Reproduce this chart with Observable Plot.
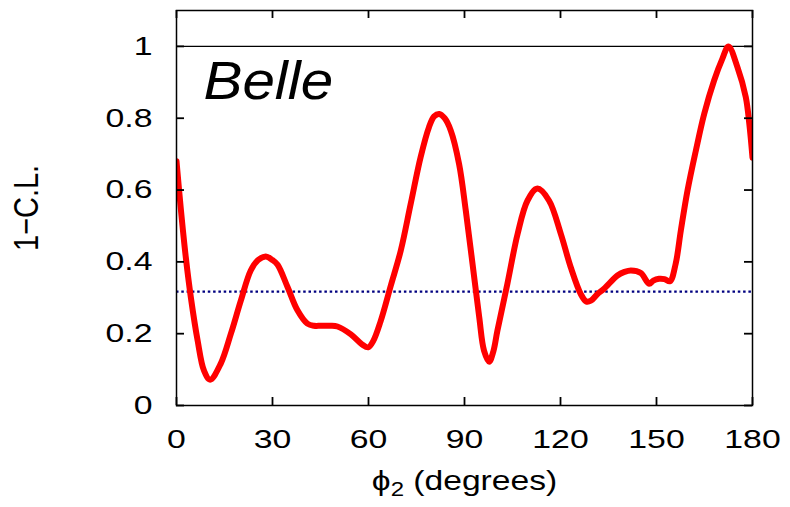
<!DOCTYPE html>
<html><head><meta charset="utf-8">
<script src="https://cdn.jsdelivr.net/npm/d3@7"></script>
<script src="https://cdn.jsdelivr.net/npm/@observablehq/plot@0.6"></script>
<style>body{margin:0;background:#fff;} #chart svg{display:block;}</style>
</head><body><div id="chart"></div>
<script>
const phi = [0,1.3,2.9,4.5,6.6,8.6,10.5,13.8,17,20.1,23.2,25.5,27.9,30,31.6,34.7,37.8,40.9,43,45.1,48,50.3,54.5,58,59.9,61.5,63.8,67,70.1,73.2,76.3,78.9,80.5,82.1,83.8,85.7,88.3,90.4,92.5,94.6,96.1,97.7,99,100.3,103.4,106.6,109.7,112.8,116.4,120.1,123.2,126.3,128,129.5,131.5,133.6,137.8,140,142,145.1,147.7,149,150.8,152.5,154.2,156,157.6,159.7,162.3,164.9,168,170.6,172.5,175.3,177.9,179,180];
const cl  = [0.68,0.552,0.413,0.30,0.181,0.097,0.072,0.116,0.20,0.292,0.376,0.405,0.415,0.405,0.392,0.33,0.265,0.228,0.222,0.222,0.222,0.22,0.198,0.17,0.162,0.18,0.235,0.335,0.432,0.562,0.692,0.775,0.805,0.812,0.80,0.766,0.673,0.543,0.395,0.246,0.153,0.122,0.15,0.209,0.339,0.478,0.571,0.604,0.571,0.478,0.385,0.311,0.29,0.292,0.31,0.325,0.362,0.372,0.376,0.369,0.339,0.348,0.353,0.352,0.346,0.395,0.487,0.599,0.71,0.812,0.905,0.966,1.0,0.942,0.859,0.785,0.69];
const xTicks = [0,30,60,90,120,150,180];
const yTicks = [0,0.2,0.4,0.6,0.8,1];
const refLevel = 1;
const clLevel = 0.317;
const experiment = "Belle";
const xTitleSymbol = "ϕ";
const xTitleSub = "2";
const xTitleRest = " (degrees)";
const xTitle = xTitleSymbol + xTitleSub + xTitleRest;
const yTitle = "1−C.L.";

const rows = phi.map((p, i) => ({phi: p, cl: cl[i]}));

const W = 790, H = 507, mL = 176, mR = 38, mT = 10, mB = 102;
const fw = W - mL - mR, fh = H - mT - mB, tk = 8;

const chart = Plot.plot({
  width: W, height: H,
  marginLeft: mL, marginRight: mR, marginTop: mT, marginBottom: mB,
  x: {domain: [0, 180]},
  y: {domain: [0, 1.1]},
  style: {fontFamily: "'Liberation Sans', Arial, sans-serif", fontSize: "26px", color: "#000", background: "#fff"},
  marks: [
    Plot.ruleY([refLevel], {stroke: "#000", strokeWidth: 1.3}),
    Plot.ruleY([clLevel], {stroke: "#000080", strokeWidth: 2.2, strokeDasharray: "2.5,2.8"}),
    Plot.line(rows, {x: "phi", y: "cl", stroke: "#ff0000", strokeWidth: 6, curve: "catmull-rom", strokeLinejoin: "round", clip: true}),
    Plot.frame({stroke: "#000", strokeWidth: 1.5}),
    // inward ticks on all four sides
    Plot.tickX(xTicks, {x: d => d, insetTop: fh - tk, stroke: "#000", strokeWidth: 1.8}),
    Plot.tickX(xTicks, {x: d => d, insetBottom: fh - tk, stroke: "#000", strokeWidth: 1.8}),
    Plot.tickY(yTicks, {y: d => d, insetRight: fw - tk, stroke: "#000", strokeWidth: 1.8}),
    Plot.tickY(yTicks, {y: d => d, insetLeft: fw - tk, stroke: "#000", strokeWidth: 1.8}),
    // tick labels
    Plot.axisX(xTicks, {anchor: "bottom", tickSize: 0, tickPadding: 24, fontSize: 26, label: null}),
    Plot.axisY(yTicks, {anchor: "left", tickSize: 0, tickPadding: 24, tickFormat: d => String(d), fontSize: 26, label: null}),
    Plot.text([experiment], {frameAnchor: "top-left", dx: 27, dy: 50, fontSize: 54, fontStyle: "italic", textAnchor: "start", lineAnchor: "top"}),
    Plot.text([xTitle], {frameAnchor: "bottom", dy: 76, fontSize: 28, lineAnchor: "middle"}),
    Plot.text([yTitle], {frameAnchor: "left", dx: -150, rotate: -90, fontSize: 29, textAnchor: "middle", lineAnchor: "middle"})
  ]
});
document.getElementById("chart").append(chart);

const svgNS = "http://www.w3.org/2000/svg";
chart.querySelectorAll("text").forEach(t => {
  const s = t.textContent;
  if (!s) return;
  if (s === yTitle) {
    const tr = t.getAttribute("transform");
    if (tr) t.setAttribute("transform", tr + " scale(1,1.2)");
    return;
  }
  let k = 1.3;
  if (s === xTitle) {
    k = 1.2;
    t.textContent = "";
    t.append(document.createTextNode(xTitleSymbol));
    const sub = document.createElementNS(svgNS, "tspan");
    sub.setAttribute("font-size", "20");
    sub.setAttribute("dy", "6");
    sub.textContent = xTitleSub;
    const rest = document.createElementNS(svgNS, "tspan");
    rest.setAttribute("dy", "-6");
    rest.textContent = xTitleRest;
    t.append(sub, rest);
  }
  if (s === experiment) k = 1.08;
  const len = t.getComputedTextLength();
  if (len > 0) {
    t.setAttribute("textLength", (len * k).toFixed(1));
    t.setAttribute("lengthAdjust", "spacingAndGlyphs");
  }
});
</script>
</body></html>
